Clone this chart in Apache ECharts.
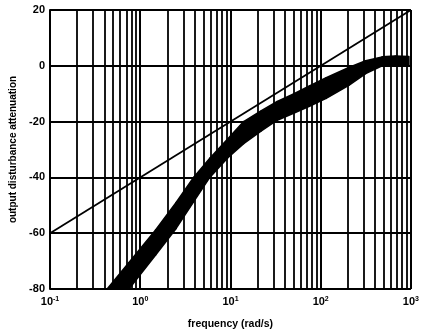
<!DOCTYPE html>
<html>
<head>
<meta charset="utf-8">
<script src="https://cdn.jsdelivr.net/npm/echarts@6/dist/echarts.min.js"></script>
<style>
html,body{margin:0;padding:0;background:#fff}
#Chart{width:422px;height:335px}
</style>
</head>
<body>
<div id="Chart"></div>
<script>
// band (freq in rad/s, dB)
var bandFreq=[0.43,0.75,1.48,2.5,3.9,5.9,9.3,14,22,33,50,75,115,205,315,480,670,950]
var bandUpper=[-80,-70.5,-58.8,-49,-40,-33.1,-26.2,-20,-16.1,-12.8,-10.1,-7.2,-4.3,-0.6,1.8,3.2,3.5,3.3]
var bandLower=[-89,-80,-67.8,-58.3,-48.8,-40,-33,-27.9,-23.3,-19.5,-17,-14.5,-11.7,-7,-2.8,0,0.3,0]
// thin straight line
var lineFreq=[0.1,1000]
var lineDb=[-60,20]
// minor grid of the log axis
var decades=[0.1,1,10,100]
var minorMult=[2,3,4,5,6,7,8,9]

var minorX=[]
decades.forEach(function(d){
    minorMult.forEach(function(m){ minorX.push(d*m) })
})

//每段: [f0,上0,下0,f1,上1,下1]
var bandSeg=[],lineData=[]
for(var i=0;i<bandFreq.length-1;i++){
    bandSeg.push([bandFreq[i],bandUpper[i],bandLower[i],bandFreq[i+1],bandUpper[i+1],bandLower[i+1]])
}
lineFreq.forEach(function(f,i){ lineData.push([f,lineDb[i]]) })

function renderBand(params,api){
    var a=api.coord([api.value(0),api.value(1)])
    var b=api.coord([api.value(3),api.value(4)])
    var c=api.coord([api.value(3),api.value(5)])
    var d=api.coord([api.value(0),api.value(2)])
    return {
        type:'polygon',
        shape:{points:[a,b,c,d]},
        style:{fill:'#000',stroke:'#000',lineWidth:1.5,lineJoin:'round'}
    }
}

var myChart=echarts.init(document.getElementById('Chart'))
var option={
    animation:false,
    backgroundColor:'#fff',
    grid:{left:50,right:6,top:10,bottom:42},
    xAxis:{
        type:'log',
        logBase:10,
        min:0.1,
        max:1000,
        name:'frequency (rad/s)',
        nameLocation:'middle',
        nameGap:30,
        nameTextStyle:{color:'#000',fontWeight:'bold',fontSize:10.5,fontFamily:'Liberation Sans'},
        axisLine:{show:true,lineStyle:{color:'#000',width:2}},
        axisTick:{show:false},
        splitLine:{show:true,lineStyle:{color:'#000',width:2}},
        axisLabel:{
            margin:7,
            formatter:function(v){
                var e=Math.round(Math.log(v)/Math.LN10)
                return '{b|10}{s|'+e+'}'
            },
            rich:{
                b:{fontSize:11,fontWeight:'bold',color:'#000',fontFamily:'Liberation Sans'},
                s:{fontSize:7,fontWeight:'bold',color:'#000',verticalAlign:'top',fontFamily:'Liberation Sans',padding:[0,0,5,0]}
            }
        }
    },
    yAxis:{
        type:'value',
        min:-80,
        max:20,
        interval:20,
        name:'output disturbance attenuation',
        nameLocation:'middle',
        nameGap:28,
        nameTextStyle:{color:'#000',fontWeight:'bold',fontSize:10,fontFamily:'Liberation Sans'},
        axisLine:{show:true,lineStyle:{color:'#000',width:2}},
        axisTick:{show:false},
        splitLine:{show:true,lineStyle:{color:'#000',width:2}},
        axisLabel:{margin:5,color:'#000',fontWeight:'bold',fontSize:11,fontFamily:'Liberation Sans'}
    },
    series:[
        {
            type:'line',
            data:lineData,
            symbol:'none',
            lineStyle:{color:'#000',width:1.8},
            markLine:{
                silent:true,
                symbol:'none',
                label:{show:false},
                lineStyle:{color:'#000',width:1.8,type:'solid'},
                data:minorX.map(function(v){ return {xAxis:v} })
            },
            z:3
        },
        {
            type:'custom',
            renderItem:renderBand,
            data:bandSeg,
            encode:{x:[0,3],y:[1,2,4,5]},
            clip:true,
            silent:true,
            z:4
        }
    ]
}
myChart.setOption(option)
</script>
</body>
</html>
